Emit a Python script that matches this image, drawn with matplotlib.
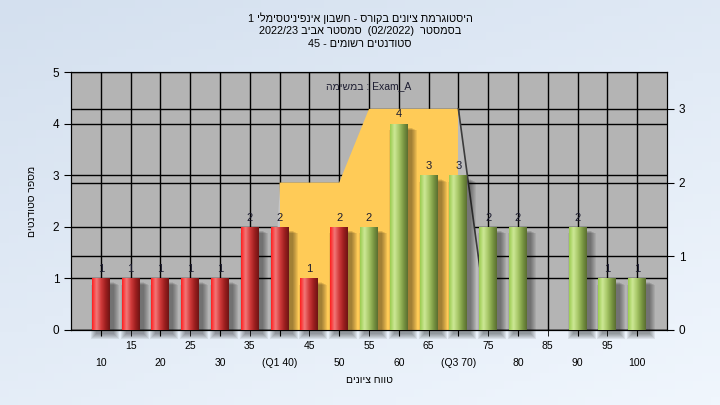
import re

import matplotlib
matplotlib.use("Agg")
import matplotlib.pyplot as plt
import numpy as np
from matplotlib.colors import LinearSegmentedColormap
from matplotlib.patches import Rectangle

plt.rcParams['font.family'] = ['Liberation Sans', 'DejaVu Sans']

# ---- data ----
grades = [10, 15, 20, 25, 30, 35, 40, 45, 50, 55, 60, 65, 70, 75, 80, 85, 90, 95, 100]
counts = [1, 1, 1, 1, 1, 2, 2, 1, 2, 2, 4, 3, 3, 2, 2, 0, 2, 1, 1]
tick_labels = ['10', '15', '20', '25', '30', '35', '(Q1 40)', '45', '50', '55', '60',
               '65', '(Q3 70)', '75', '80', '85', '90', '95', '100']
pass_grade = 55
# quartile band on the right axis
band_grades = [40, 40, 50, 55, 70, 70]
band_values = [0, 2, 2, 3, 3, 0]

title_lines = ['היסטוגרמת ציונים בקורס - חשבון אינפיניטסימלי 1',
               'בסמסטר  (02/2022)  סמסטר אביב 2022/23',
               'סטודנטים רשומים - 45']
note = 'Exam_A : במשימה'
xlabel = 'טווח ציונים'
ylabel = 'מספר סטודנטים'


def rtl(s):
    # matplotlib has no bidi: put hebrew runs in visual order by hand
    parts = re.findall(r'[A-Za-z0-9_/.]+|[^A-Za-z0-9_/.]+', s)
    out = []
    for p in reversed(parts):
        if re.match(r'[A-Za-z0-9_/.]', p):
            out.append(p)
        else:
            out.append(p[::-1].translate(str.maketrans('()', ')(')))
    return ''.join(out)


x = np.arange(len(grades))
pos = {g: i for i, g in enumerate(grades)}

fig = plt.figure(figsize=(7.2, 4.05), dpi=100)

# light blue gradient background
bg = fig.add_axes([0, 0, 1, 1], zorder=-10)
yy, xx = np.mgrid[0:1:50j, 0:1:80j]
t = 0.6 * yy + 0.4 * xx
c0 = np.array([212, 224, 239]) / 255
c1 = np.array([240, 246, 253]) / 255
bg.imshow(c0 + (c1 - c0) * t[..., None], aspect='auto', extent=[0, 1, 0, 1], origin='upper')
bg.axis('off')

ax = fig.add_axes([0.0986, 0.1852, 0.8278, 0.637])
ax2 = ax.twinx()
ax.set_zorder(ax2.get_zorder() + 1)
ax.patch.set_visible(False)
ax2.patch.set_visible(True)
ax2.patch.set_facecolor('#b4b4b4')

# grid: both axes, under the band
ax.set_axisbelow(True)
ax.xaxis.grid(True, which='both', color='black', lw=1.0)
ax.yaxis.grid(True, color='black', lw=1.0)
ax2.yaxis.grid(True, color='black', lw=1.0)
ax2.set_axisbelow(True)

# quartile band (right axis scale) drawn inside ax so the bars sit above it
bx = [pos[g] for g in band_grades]
ax.fill(bx, band_values, color='#ffcb57', lw=0, zorder=1, transform=ax2.transData)
l40, r70 = pos[40], pos[70]
ax.fill([l40, l40, l40 - 0.27], [2, 0, 0], color='#c6c6c6', lw=0, zorder=1,
        transform=ax2.transData)
ax.fill([r70, r70, r70 + 1.0], [3, 0, 0], color='#bcbcbc', lw=0, zorder=1,
        transform=ax2.transData)
ax.plot([r70, r70 + 1.0], [3, 0], color='#3c3c3c', lw=1.2, zorder=1.1,
        transform=ax2.transData)

red = LinearSegmentedColormap.from_list('red', ['#ff1e1e', '#f27878', '#d23c3c', '#a02020', '#6e1414'])
green = LinearSegmentedColormap.from_list('green', ['#9ccc50', '#cde896', '#a8c868', '#7c9a44', '#5a6e30'])

bars = ax.bar(x, counts, width=0.6, color='none', edgecolor='none', zorder=4)
grad = np.linspace(0, 1, 64).reshape(1, -1)
dx, dy = 4 / 29.85, 4 / 51.6
ex, ey = 1 / 29.85, 1 / 51.6
for b, g, c in zip(bars, grades, counts):
    if c == 0:
        continue
    x0, w, h = b.get_x(), b.get_width(), b.get_height()
    # soft drop shadow
    for k in range(6):
        ax.add_patch(Rectangle((x0 + dx - k * ex, -dy - k * ey), w + 2 * k * ex, h + k * ey * 0.5,
                               color='black', alpha=0.07, lw=0, zorder=3, clip_on=False))
    im = ax.imshow(grad, cmap=red if g < pass_grade else green, extent=[x0, x0 + w, 0, h],
                   aspect='auto', zorder=4, interpolation='bilinear')
    im.set_clip_path(b)
    ax.annotate(str(c), (x0 + w / 2, h), xytext=(0, 3), textcoords='offset points',
                ha='center', va='bottom', fontsize=8, color='#1c1c30', zorder=5)

ax.set_xlim(-1, 19)
ax.set_ylim(0, 5)
ax2.set_ylim(0, 3.5)
ax.set_aspect('auto')

ax.set_yticks(range(6))
ax2.set_yticks(range(4))
ax.set_xticks(x[::2])
ax.set_xticklabels(tick_labels[::2])
ax.set_xticks(x[1::2], minor=True)
ax.set_xticklabels(tick_labels[1::2], minor=True)
ax.tick_params(axis='x', which='both', length=4, labelsize=7.5, direction='out')
ax.tick_params(axis='x', which='minor', pad=4)
ax.tick_params(axis='x', which='major', pad=16)
ax.tick_params(axis='y', length=5, labelsize=8.5, direction='out')
ax2.tick_params(axis='y', length=5, labelsize=8.5, direction='out')
for s in ax.spines.values():
    s.set_color('black')
for s in ax2.spines.values():
    s.set_color('black')

ax.set_xlabel(rtl(xlabel), fontsize=7.5, labelpad=5)
ax.set_ylabel(rtl(ylabel), fontsize=7.5, labelpad=11)
ax.text(0.5, 0.946, rtl(note), transform=ax.transAxes, ha='center', va='center',
        fontsize=7.5, color='#1c1c30', zorder=6)

for i, line in enumerate(title_lines):
    fig.text(0.5, 1 - (18 + 13 * i) / 405, rtl(line), ha='center', va='center', fontsize=7.8)

fig.savefig('out.png', dpi=100)
